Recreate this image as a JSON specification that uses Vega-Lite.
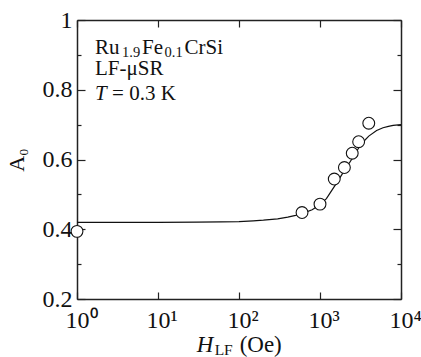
{
  "$schema": "https://vega.github.io/schema/vega-lite/v6.json",
  "width": 324,
  "height": 279,
  "autosize": "none",
  "padding": {"left": 77, "top": 20, "right": 20, "bottom": 58},
  "config": {
    "view": {"stroke": null},
    "font": "Liberation Serif",
    "axis": {
      "domainColor": "#222",
      "domainWidth": 1.5,
      "tickColor": "#222",
      "tickWidth": 1.2,
      "grid": false,
      "labelFont": "Liberation Serif",
      "labelFontSize": 24,
      "labelColor": "#111",
      "titleFont": "Liberation Serif",
      "titleFontWeight": "normal",
      "titleFontSize": 22,
      "titleColor": "#111"
    },
    "text": {"font": "Liberation Serif", "color": "#111", "align": "left", "baseline": "alphabetic"}
  },
  "datasets": {
    "curve": [
      {"H": 1, "A": 0.42}, {"H": 3, "A": 0.42}, {"H": 10, "A": 0.42}, {"H": 30, "A": 0.4205},
      {"H": 60, "A": 0.421}, {"H": 100, "A": 0.422}, {"H": 150, "A": 0.424}, {"H": 200, "A": 0.426},
      {"H": 300, "A": 0.43}, {"H": 400, "A": 0.435}, {"H": 500, "A": 0.44}, {"H": 600, "A": 0.445},
      {"H": 800, "A": 0.456}, {"H": 1000, "A": 0.47}, {"H": 1200, "A": 0.488}, {"H": 1500, "A": 0.522},
      {"H": 2000, "A": 0.568}, {"H": 2500, "A": 0.603}, {"H": 3000, "A": 0.633}, {"H": 3500, "A": 0.653},
      {"H": 4000, "A": 0.667}, {"H": 5000, "A": 0.683}, {"H": 6000, "A": 0.691}, {"H": 7000, "A": 0.695},
      {"H": 8000, "A": 0.698}, {"H": 10000, "A": 0.7}
    ],
    "points": [
      {"H": 1, "A": 0.394}, {"H": 600, "A": 0.448}, {"H": 1000, "A": 0.472}, {"H": 1500, "A": 0.544},
      {"H": 2000, "A": 0.577}, {"H": 2500, "A": 0.618}, {"H": 3000, "A": 0.651}, {"H": 4000, "A": 0.704}
    ],
    "one": [{}]
  },
  "layer": [
    {
      "data": {"name": "curve"},
      "mark": {"type": "line", "color": "#111", "strokeWidth": 1.2},
      "encoding": {
        "x": {"field": "H", "type": "quantitative",
          "scale": {"type": "log", "domain": [1, 10000], "nice": false},
          "axis": {"orient": "bottom", "title": null, "values": [1, 10, 100, 1000, 10000],
            "tickSize": -7, "labelPadding": 16, "labelAlign": "left", "labelOffset": -12, "labelFlush": false,
            "labelExpr": "'10' + ['⁰','¹','²','³','⁴'][round(log(datum.value)/LN10)]"}},
        "y": {"field": "A", "type": "quantitative",
          "scale": {"domain": [0.2, 1], "nice": false, "zero": false},
          "axis": {"orient": "left", "title": "A₀", "titlePadding": 14,
            "values": [0.2, 0.3, 0.4, 0.5, 0.6, 0.7, 0.8, 0.9, 1.0],
            "tickSize": {"condition": {"test": "round(datum.value*10) % 2 == 0", "value": -8}, "value": -4},
            "labelPadding": 13, "labelFlush": false,
            "labelExpr": "round(datum.value*10) % 2 == 0 ? (datum.value == 1 ? '1' : format(datum.value, '.1f')) : ''"}}
      }
    },
    {
      "data": {"name": "points"},
      "mark": {"type": "point", "shape": "circle", "filled": true, "fill": "white", "stroke": "#111", "strokeWidth": 1.1, "size": 140, "opacity": 1},
      "encoding": {
        "x": {"field": "H", "type": "quantitative",
          "axis": {"orient": "top", "title": null, "labels": false, "values": [1, 10, 100, 1000, 10000], "tickSize": -7}},
        "y": {"field": "A", "type": "quantitative",
          "axis": {"orient": "right", "title": null, "labels": false,
            "values": [0.2, 0.3, 0.4, 0.5, 0.6, 0.7, 0.8, 0.9, 1.0],
            "tickSize": {"condition": {"test": "round(datum.value*10) % 2 == 0", "value": -8}, "value": -4}}}
      }
    },
    {
      "data": {"name": "one"},
      "mark": {"type": "text", "text": "Ru", "fontSize": 21},
      "encoding": {"x": {"datum": 1.67, "type": "quantitative", "axis": null}, "y": {"datum": 0.9025, "type": "quantitative", "axis": null}}
    },
    {
      "data": {"name": "one"},
      "mark": {"type": "text", "text": "1.9", "fontSize": 14.5, "dx": 27, "dy": 3},
      "encoding": {"x": {"datum": 1.67, "type": "quantitative", "axis": null}, "y": {"datum": 0.9025, "type": "quantitative", "axis": null}}
    },
    {
      "data": {"name": "one"},
      "mark": {"type": "text", "text": "Fe", "fontSize": 21, "dx": 47},
      "encoding": {"x": {"datum": 1.67, "type": "quantitative", "axis": null}, "y": {"datum": 0.9025, "type": "quantitative", "axis": null}}
    },
    {
      "data": {"name": "one"},
      "mark": {"type": "text", "text": "0.1", "fontSize": 14.5, "dx": 69.5, "dy": 3},
      "encoding": {"x": {"datum": 1.67, "type": "quantitative", "axis": null}, "y": {"datum": 0.9025, "type": "quantitative", "axis": null}}
    },
    {
      "data": {"name": "one"},
      "mark": {"type": "text", "text": "CrSi", "fontSize": 21, "dx": 89.5},
      "encoding": {"x": {"datum": 1.67, "type": "quantitative", "axis": null}, "y": {"datum": 0.9025, "type": "quantitative", "axis": null}}
    },
    {
      "data": {"name": "one"},
      "mark": {"type": "text", "text": "LF-μSR", "fontSize": 21},
      "encoding": {"x": {"datum": 1.67, "type": "quantitative", "axis": null}, "y": {"datum": 0.842, "type": "quantitative", "axis": null}}
    },
    {
      "data": {"name": "one"},
      "mark": {"type": "text", "text": "T", "fontSize": 21, "fontStyle": "italic"},
      "encoding": {"x": {"datum": 1.67, "type": "quantitative", "axis": null}, "y": {"datum": 0.7706, "type": "quantitative", "axis": null}}
    },
    {
      "data": {"name": "one"},
      "mark": {"type": "text", "text": "= 0.3 K", "fontSize": 21, "dx": 17},
      "encoding": {"x": {"datum": 1.67, "type": "quantitative", "axis": null}, "y": {"datum": 0.7706, "type": "quantitative", "axis": null}}
    },
    {
      "data": {"name": "one"},
      "mark": {"type": "text", "text": "H", "fontSize": 23, "fontStyle": "italic"},
      "encoding": {"x": {"datum": 30, "type": "quantitative", "axis": null}, "y": {"datum": 0.048, "type": "quantitative", "axis": null}}
    },
    {
      "data": {"name": "one"},
      "mark": {"type": "text", "text": "LF", "fontSize": 15.5, "dx": 18, "dy": 3},
      "encoding": {"x": {"datum": 30, "type": "quantitative", "axis": null}, "y": {"datum": 0.048, "type": "quantitative", "axis": null}}
    },
    {
      "data": {"name": "one"},
      "mark": {"type": "text", "text": "(Oe)", "fontSize": 23, "dx": 43},
      "encoding": {"x": {"datum": 30, "type": "quantitative", "axis": null}, "y": {"datum": 0.048, "type": "quantitative", "axis": null}}
    }
  ],
  "resolve": {"axis": {"x": "independent", "y": "independent"}}
}
